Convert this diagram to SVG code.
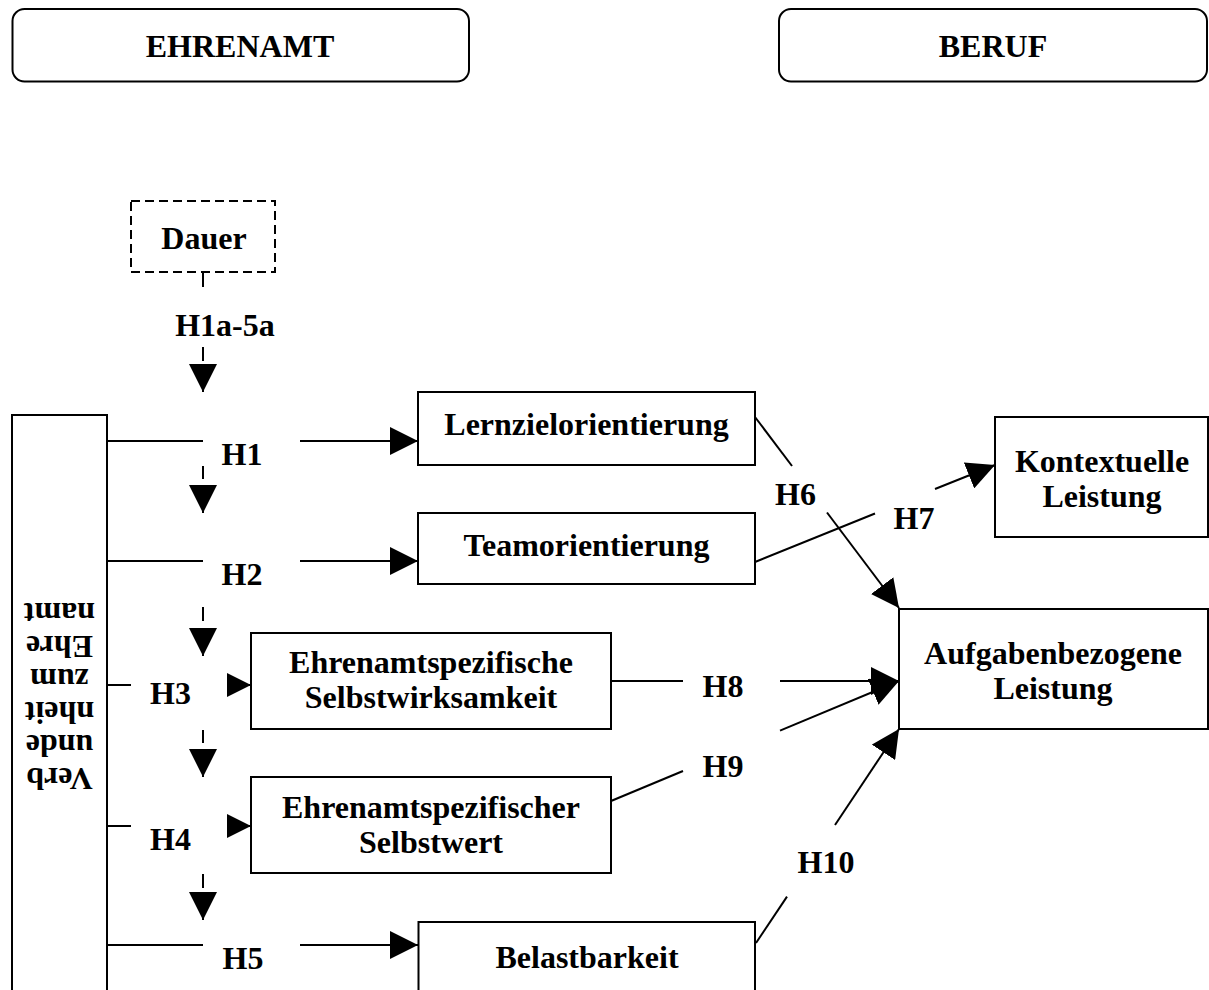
<svg xmlns="http://www.w3.org/2000/svg" width="1209" height="990" viewBox="0 0 1209 990">
<style>
text{font-family:"Liberation Serif","Times New Roman",serif;font-weight:bold;font-size:32px;fill:#000;text-anchor:middle}
.box{fill:#fff;stroke:#000;stroke-width:2}
.dash{fill:#fff;stroke:#000;stroke-width:2;stroke-dasharray:9 5}
.ln{fill:none;stroke:#000;stroke-width:2}
.ar{fill:none;stroke:#000;stroke-width:2;marker-end:url(#arr)}
.ars{fill:none;stroke:#000;stroke-width:2;marker-end:url(#arrS)}
</style>
<defs>
<marker id="arr" markerUnits="userSpaceOnUse" markerWidth="28" markerHeight="28" viewBox="0 0 28 28" refX="28" refY="14" orient="auto"><path d="M0,0 L28,14 L0,28 z" fill="#000"/></marker>
<marker id="arrS" markerUnits="userSpaceOnUse" markerWidth="24" markerHeight="24" viewBox="0 0 24 24" refX="24" refY="12" orient="auto"><path d="M0,0 L24,12 L0,24 z" fill="#000"/></marker>
</defs>
<rect width="1209" height="990" fill="#fff"/>

<g id="ehrenamt"><rect class="box" x="12.5" y="9" width="456.5" height="72.5" rx="12"/><text x="240" y="57">EHRENAMT</text></g>
<g id="beruf"><rect class="box" x="779" y="9" width="428" height="72.5" rx="12"/><text x="993" y="57">BERUF</text></g>
<g id="dauer"><rect class="dash" x="131" y="201" width="144" height="71"/><text x="204" y="249">Dauer</text></g>
<g id="verbundenheit"><rect class="box" x="12" y="415" width="95" height="590"/>
<g transform="rotate(180 59.5 685.5)"><text x="59.5" y="603">Verb</text><text x="59.5" y="636">unde</text><text x="59.5" y="669">nheit</text><text x="59.5" y="702">zum</text><text x="59.5" y="735">Ehre</text><text x="59.5" y="768">namt</text></g></g>
<g id="lernziel"><rect class="box" x="418" y="392" width="337" height="73"/><text x="586.5" y="435">Lernzielorientierung</text></g>
<g id="team"><rect class="box" x="418" y="513" width="337" height="71"/><text x="586.5" y="556">Teamorientierung</text></g>
<g id="selbstwirksamkeit"><rect class="box" x="251" y="633" width="360" height="96"/><text x="431" y="673">Ehrenamtspezifische</text><text x="431" y="708">Selbstwirksamkeit</text></g>
<g id="selbstwert"><rect class="box" x="251" y="777" width="360" height="96"/><text x="431" y="818">Ehrenamtspezifischer</text><text x="431" y="853">Selbstwert</text></g>
<g id="belastbarkeit"><rect class="box" x="418.5" y="922" width="336.5" height="100"/><text x="587" y="968">Belastbarkeit</text></g>
<g id="kontextuelle"><rect class="box" x="995" y="417" width="213" height="120"/><text x="1102" y="472">Kontextuelle</text><text x="1102" y="507">Leistung</text></g>
<g id="aufgaben"><rect class="box" x="899" y="609" width="309" height="120"/><text x="1053" y="664">Aufgabenbezogene</text><text x="1053" y="699">Leistung</text></g>

<g id="connectors">
<path class="ln" d="M203,272 V287"/>
<path class="ar" d="M203,347 V361 M203,366 V392"/>
<path class="ln" d="M107,441 H203"/><path class="ar" d="M300,441 H418"/>
<path class="ar" d="M203,466 V479 M203,486 V513"/>
<path class="ln" d="M107,561 H203"/><path class="ar" d="M300,561 H418"/>
<path class="ar" d="M203,607 V621 M203,630 V656"/>
<path class="ln" d="M107,685 H131"/><path class="ars" d="M228,685 H251"/>
<path class="ar" d="M203,730 V743 M203,751 V777"/>
<path class="ln" d="M107,826 H131"/><path class="ars" d="M228,826 H251"/>
<path class="ar" d="M203,874 V888 M203,894 V920"/>
<path class="ln" d="M107,945 H203"/><path class="ar" d="M300,945 H418"/>
<path class="ln" d="M755,417 L792,466"/><path class="ar" d="M827,512.5 L899,608"/>
<path class="ln" d="M755,562 L875,513.5"/><path class="ar" d="M935,489 L995,465"/>
<path class="ln" d="M611,681 H683"/><path class="ar" d="M780,681 H899"/>
<path class="ln" d="M611,801 L683,771"/><path class="ar" d="M780,730.6 L899,681"/>
<path class="ln" d="M756,943 L787,896.6"/><path class="ar" d="M835,825 L899,729"/>
<text x="225" y="336">H1a-5a</text>
<text x="242" y="465">H1</text>
<text x="242" y="585">H2</text>
<text x="170.5" y="704">H3</text>
<text x="170.5" y="850">H4</text>
<text x="243" y="969">H5</text>
<text x="795.5" y="505">H6</text>
<text x="914" y="529">H7</text>
<text x="723" y="697">H8</text>
<text x="723" y="777">H9</text>
<text x="826" y="873">H10</text>
</g>
</svg>
